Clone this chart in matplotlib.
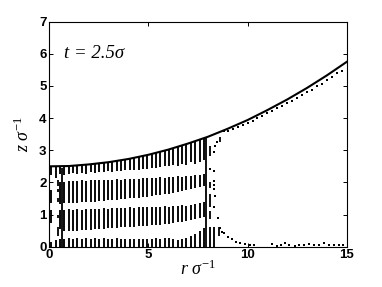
import numpy as np
import matplotlib
matplotlib.use("Agg")
import matplotlib.pyplot as plt

plt.rcParams['mathtext.fontset'] = 'custom'
plt.rcParams['mathtext.rm'] = 'Liberation Serif:weight=normal'
plt.rcParams['mathtext.it'] = 'Liberation Serif:style=italic:weight=normal'
plt.rcParams['font.family'] = ['Liberation Sans', 'DejaVu Sans']
plt.rcParams['font.weight'] = 'bold'

# ---------------- data ----------------
# free surface profile
surf_r = [0, 1, 2, 3, 4, 5, 6, 7, 8, 9, 10, 11, 12, 13, 14, 15]
surf_z = [2.50, 2.51, 2.56, 2.63, 2.73, 2.86, 3.02, 3.21, 3.42, 3.67, 3.94, 4.25, 4.58, 4.94, 5.33, 5.75]

# particle columns
col_r = [0.10, 0.32, 0.54, 0.76, 0.98, 1.20, 1.42, 1.64, 1.86, 2.08, 2.30, 2.52,
         2.74, 2.96, 3.18, 3.40, 3.62, 3.84, 4.06, 4.28, 4.50, 4.72, 4.94, 5.16,
         5.38, 5.60, 5.82, 6.04, 6.26, 6.48, 6.70, 6.92, 7.14, 7.36, 7.58, 7.80]

layerA_hi = [2.50, 2.50, 2.50, 2.51, 2.51, 2.52, 2.53, 2.54, 2.55, 2.56, 2.58, 2.59,
             2.61, 2.63, 2.65, 2.67, 2.69, 2.71, 2.74, 2.76, 2.79, 2.82, 2.85, 2.88,
             2.92, 2.95, 2.99, 3.03, 3.07, 3.11, 3.15, 3.19, 3.24, 3.28, 3.33, 3.38]
layerA_lo = [2.22, 2.15, 2.25, 2.22, 2.25, 2.28, 2.25, 2.30, 2.27, 2.32, 2.30, 2.33,
             2.32, 2.35, 2.33, 2.37, 2.35, 2.39, 2.38, 2.40, 2.40, 2.43, 2.42, 2.46,
             2.45, 2.48, 2.50, 2.50, 2.55, 2.52, 2.58, 2.55, 2.62, 2.58, 2.62, 2.70]

layerB_lo = [1.35, np.nan, 1.33, 1.35, 1.35, 1.36, 1.37, 1.38, 1.38, 1.40, 1.40, 1.42,
             1.42, 1.44, 1.45, 1.46, 1.47, 1.49, 1.50, 1.52, 1.53, 1.55, 1.56, 1.58,
             1.60, 1.62, 1.63, 1.65, 1.68, 1.70, 1.72, 1.75, 1.78, 1.82, 1.86, 1.90]
layerB_hi = [1.75, np.nan, 2.00, 2.02, 2.03, 2.05, 2.04, 2.06, 2.05, 2.07, 2.06, 2.08,
             2.07, 2.09, 2.08, 2.10, 2.09, 2.11, 2.10, 2.12, 2.11, 2.13, 2.13, 2.15,
             2.14, 2.16, 2.15, 2.18, 2.17, 2.19, 2.18, 2.21, 2.20, 2.22, 2.22, 2.25]

layerC_lo = [0.75, np.nan, 0.55, 0.50, 0.48, 0.50, 0.50, 0.52, 0.52, 0.53, 0.54, 0.55,
             0.56, 0.57, 0.58, 0.58, 0.60, 0.60, 0.62, 0.62, 0.63, 0.64, 0.65, 0.66,
             0.68, 0.69, 0.71, 0.72, 0.74, 0.76, 0.78, 0.80, 0.82, 0.85, 0.88, 0.92]
layerC_hi = [1.15, np.nan, 1.15, 1.15, 1.16, 1.15, 1.17, 1.15, 1.17, 1.16, 1.18, 1.17,
             1.19, 1.18, 1.20, 1.19, 1.21, 1.20, 1.22, 1.21, 1.22, 1.22, 1.24, 1.23,
             1.25, 1.24, 1.26, 1.25, 1.27, 1.27, 1.29, 1.28, 1.31, 1.32, 1.35, 1.38]

layerD_r = col_r + [8.10, 8.32]
layerD_hi = [0.15, 0.22, 0.25, 0.25, 0.26, 0.25, 0.26, 0.25, 0.26, 0.25, 0.26, 0.25,
             0.26, 0.25, 0.25, 0.26, 0.25, 0.24, 0.25, 0.24, 0.25, 0.24, 0.25, 0.25,
             0.26, 0.25, 0.27, 0.28, 0.25, 0.22, 0.24, 0.28, 0.33, 0.40, 0.50, 0.58,
             0.60, 0.62]

# long continuous columns
long_r = [0.64, 7.92]
long_lo = [0.00, 0.00]
long_hi = [2.45, 3.40]

# short loose dashes (r, low, high)
dash_r = [0.42, 0.42, 0.42, 0.42, 0.42, 8.12, 8.12, 8.12, 8.60, 8.56, 8.10]
dash_lo = [1.90, 1.70, 1.40, 0.90, 0.32, 2.82, 1.25, 0.85, 3.27, 0.32, 1.82]
dash_hi = [2.08, 1.80, 1.52, 1.00, 0.62, 3.12, 1.65, 1.12, 3.42, 0.62, 2.00]

# loose particles near the front
front_r = [8.35, 8.30, 8.80, 8.12, 8.33, 8.33, 8.33, 8.33, 8.38, 8.33, 8.52, 8.72, 8.45]
front_z = [3.12, 2.95, 3.60, 2.42, 2.37, 2.05, 1.92, 1.78, 1.58, 1.22, 0.88, 0.45, 3.25]

# particles just below the surface beyond the front
top_r = [9.00, 9.25, 9.50, 9.75, 10.00, 10.25, 10.50, 10.75, 11.00, 11.25, 11.50, 11.75,
         12.00, 12.25, 12.50, 12.75, 13.00, 13.25, 13.50, 13.75, 14.00, 14.25, 14.50, 14.75]
top_z = [3.59, 3.65, 3.72, 3.79, 3.86, 3.92, 4.00, 4.06, 4.15, 4.22, 4.31, 4.37,
         4.46, 4.53, 4.63, 4.71, 4.81, 4.88, 5.00, 5.07, 5.19, 5.27, 5.39, 5.47]

# particles on the bottom beyond the front
bot_r = [8.62, 8.79, 8.99, 9.21, 9.43, 9.63, 9.88, 10.10, 10.30, 11.23, 11.50, 11.70,
         11.90, 12.10, 12.40, 12.60, 12.85, 13.10, 13.35, 13.60, 13.85, 14.10, 14.35, 14.60, 14.80]
bot_z = [0.57, 0.42, 0.31, 0.23, 0.16, 0.10, 0.08, 0.05, 0.04, 0.08, 0.03, 0.06,
         0.11, 0.05, 0.03, 0.06, 0.04, 0.08, 0.05, 0.04, 0.11, 0.05, 0.06, 0.04, 0.05]

x_ticks = [0, 5, 10, 15]
y_ticks = [0, 1, 2, 3, 4, 5, 6, 7]

# ---------------- plot ----------------
fig = plt.figure(figsize=(3.82, 2.87), dpi=100)
ax = fig.add_axes([0.129, 0.1404, 0.7786, 0.784])

bar_lw = 1.35
ax.vlines(col_r, layerA_lo, layerA_hi, colors='k', lw=bar_lw, capstyle='butt')
ax.vlines(col_r, layerB_lo, layerB_hi, colors='k', lw=bar_lw, capstyle='butt')
ax.vlines(col_r, layerC_lo, layerC_hi, colors='k', lw=bar_lw, capstyle='butt')
ax.vlines(layerD_r, 0, layerD_hi, colors='k', lw=bar_lw, capstyle='butt')
ax.vlines(long_r, long_lo, long_hi, colors='k', lw=1.3, capstyle='butt')
ax.vlines(dash_r, dash_lo, dash_hi, colors='k', lw=1.3, capstyle='butt')

ax.plot(front_r, front_z, 's', color='k', ms=1.8, mew=0)
ax.plot(top_r, top_z, 's', color='k', ms=1.8, mew=0)
ax.plot(bot_r, bot_z, 's', color='k', ms=1.8, mew=0)

ax.plot(surf_r, surf_z, color='k', lw=1.5)

ax.set_xlim(0, 15)
ax.set_ylim(0, 7)
ax.set_xticks(x_ticks)
ax.set_yticks(y_ticks)
ax.tick_params(direction='in', top=True, right=True, length=3, width=0.7,
               labelsize=9.5, pad=2)
for s in ax.spines.values():
    s.set_linewidth(0.8)

ax.set_xlabel(r'$\mathit{r}\ \sigma^{\mathit{-1}}$', fontsize=13, labelpad=-1,
              fontweight='normal')
ax.set_ylabel(r'$\mathit{z}\ \sigma^{\mathit{-1}}$', fontsize=13, labelpad=4,
              fontweight='normal')

ax.text(0.75, 6.0, 't = 2.5σ', fontsize=13.5, fontfamily='Liberation Serif',
        fontstyle='italic', fontweight='normal', va='center', ha='left')

fig.savefig('out.png', dpi=100)
